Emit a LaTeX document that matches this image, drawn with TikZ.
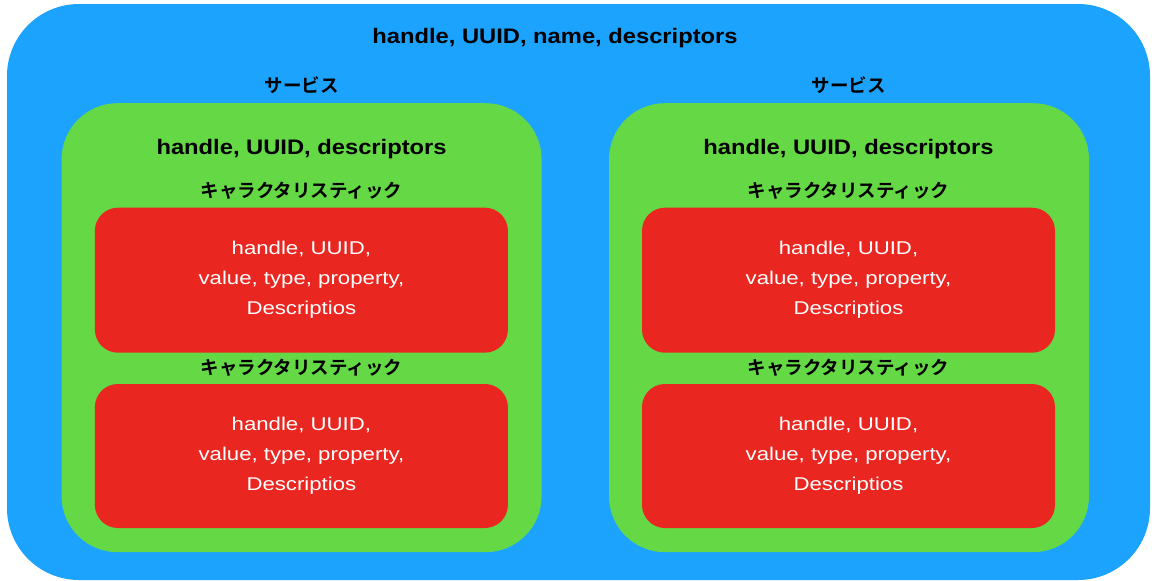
\documentclass[tikz,border=0pt]{standalone}
\usepackage{fontspec}
\setmainfont{Liberation Sans}
\newfontfamily\latbold{Liberation Sans Bold}[FakeStretch=1.13]
\newfontfamily\latreg{Liberation Sans}[FakeStretch=1.2]
\newfontfamily\jpfont{Noto Sans CJK JP Bold}
\definecolor{bluebg}{RGB}{27,163,254}
\definecolor{greenbg}{RGB}{101,216,70}
\definecolor{redbg}{RGB}{234,38,33}
\begin{document}
\begin{tikzpicture}[x=1pt,y=-1pt,
  bluebox/.style={fill=bluebg,draw=none,rounded corners=72pt},
  greenbox/.style={fill=greenbg,draw=none,rounded corners=56pt,minimum width=480pt,minimum height=449pt,inner sep=0pt},
  redbox/.style={fill=redbg,draw=none,rounded corners=23pt,minimum width=413pt,minimum height=145pt,inner sep=0pt,
    text=white,align=center,font=\latreg\fontsize{18.5}{30}\selectfont},
  boldlabel/.style={anchor=base,inner sep=0pt,font=\latbold\fontsize{21}{25}\selectfont},
  jplabel/.style={anchor=base,inner sep=0pt,font=\jpfont\fontsize{18.5}{22}\selectfont}
]
\useasboundingbox (0,0) rectangle (1152,581);
\fill[white] (0,0) rectangle (1152,581);
\path[bluebox] (7,4) rectangle (1150,580);
\node[boldlabel] (maintitle) at (555,43) {handle, UUID, name, descriptors};

% left service
\node[jplabel] (svcL) at (301.5,92.5) {サービス};
\node[greenbox] (greenL) at (301.6,327.7) {};
\node[boldlabel] (gtitleL) at (301.6,154.3) {handle, UUID, descriptors};
\node[jplabel] (char1L) at (301.5,197) {キャラクタリスティック};
\node[redbox] (red1L) at (301.4,280.2) {handle, UUID,\\value, type, property,\\Descriptios};
\node[jplabel] (char2L) at (301.5,374.5) {キャラクタリスティック};
\node[redbox,minimum height=144pt] (red2L) at (301.4,456) {handle, UUID,\\value, type, property,\\Descriptios};

% right service
\node[jplabel] (svcR) at (848.5,92.5) {サービス};
\node[greenbox] (greenR) at (849,327.7) {};
\node[boldlabel] (gtitleR) at (848.5,154.3) {handle, UUID, descriptors};
\node[jplabel] (char1R) at (848.5,197) {キャラクタリスティック};
\node[redbox] (red1R) at (848.5,280.2) {handle, UUID,\\value, type, property,\\Descriptios};
\node[jplabel] (char2R) at (848.5,374.5) {キャラクタリスティック};
\node[redbox,minimum height=144pt] (red2R) at (848.5,456) {handle, UUID,\\value, type, property,\\Descriptios};
\end{tikzpicture}
\end{document}
